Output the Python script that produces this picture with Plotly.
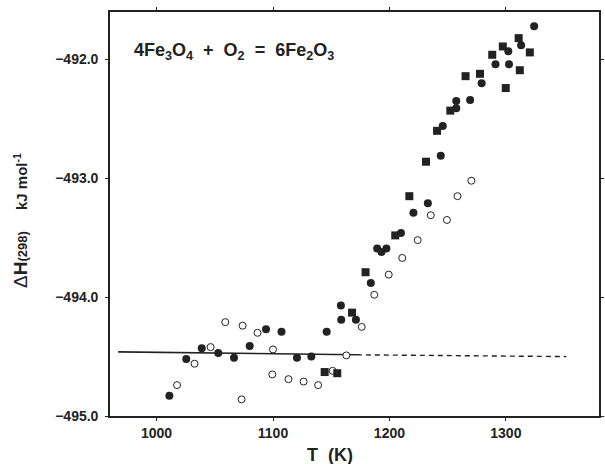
import plotly.graph_objects as go

# Open circles
open_T = [1017.6, 1032.6, 1046.4, 1059, 1073.9, 1073, 1086.7, 1100, 1099.4, 1113.3,
          1126.3, 1138.8, 1151.2, 1163, 1176.2, 1187, 1199.4, 1211, 1224.3, 1235.5,
          1249.4, 1258.5, 1270.4]
open_H = [-494.74, -494.56, -494.42, -494.21, -494.24, -494.86, -494.30, -494.44, -494.65, -494.69,
          -494.71, -494.74, -494.62, -494.49, -494.25, -493.98, -493.81, -493.67, -493.52, -493.31,
          -493.35, -493.15, -493.02]

# Filled circles
filled_T = [1011, 1025.5, 1038.8, 1053, 1066.5, 1080, 1094, 1107.3, 1120.6, 1132.9,
            1146.1, 1158.3, 1158.6, 1171.2, 1184, 1189.5, 1193.2, 1197.4, 1209.9, 1220.6,
            1233, 1244.1, 1245.8, 1257.4, 1257.4, 1269.3, 1279.2, 1291.1, 1302.7, 1302.1,
            1313.1, 1324.3]
filled_H = [-494.83, -494.52, -494.43, -494.47, -494.51, -494.41, -494.27, -494.29, -494.51, -494.50,
            -494.29, -494.07, -494.19, -494.19, -493.88, -493.59, -493.62, -493.59, -493.46, -493.29,
            -493.21, -492.81, -492.56, -492.35, -492.41, -492.34, -492.20, -492.04, -492.04, -491.93,
            -491.88, -491.72]

# Filled squares
square_T = [1144.4, 1155.2, 1167.9, 1179.5, 1205, 1217.1, 1231.4, 1240.9, 1252.3, 1265.4,
            1277.8, 1288.3, 1297.4, 1299.9, 1311, 1312, 1320.6]
square_H = [-494.63, -494.64, -494.13, -493.79, -493.48, -493.15, -492.86, -492.60, -492.43, -492.14,
            -492.12, -491.96, -491.89, -492.24, -491.82, -492.09, -491.94]

# Constant-enthalpy line (solid part) and its extrapolation (dashed)
fit_T = [967, 1172]
fit_H = [-494.46, -494.485]
ext_T = [1172, 1352]
ext_H = [-494.485, -494.50]

x_ticks = [1000, 1100, 1200, 1300]
y_ticks = [-495.0, -494.0, -493.0, -492.0]
y_ticktext = ["\u2212495.0", "\u2212494.0", "\u2212493.0", "\u2212492.0"]

ink = "#222222"
fig = go.Figure()
fig.add_trace(go.Scatter(x=fit_T, y=fit_H, mode="lines",
                         line=dict(color=ink, width=1.6), showlegend=False))
fig.add_trace(go.Scatter(x=ext_T, y=ext_H, mode="lines",
                         line=dict(color=ink, width=1.4, dash="5px,4px"), showlegend=False))
fig.add_trace(go.Scatter(x=open_T, y=open_H, mode="markers",
                         marker=dict(symbol="circle", size=7, color="white",
                                     line=dict(color=ink, width=1)), showlegend=False))
fig.add_trace(go.Scatter(x=filled_T, y=filled_H, mode="markers",
                         marker=dict(symbol="circle", size=8, color=ink,
                                     line=dict(width=0)), showlegend=False))
fig.add_trace(go.Scatter(x=square_T, y=square_H, mode="markers",
                         marker=dict(symbol="square", size=8, color=ink,
                                     line=dict(width=0)), showlegend=False))

fam = "Arial, Liberation Sans, sans-serif"
axis_font = dict(family=fam, size=14, color=ink, weight="bold")
fig.update_layout(
    width=605, height=464,
    margin=dict(l=110, r=1, t=12, b=48),
    paper_bgcolor="white", plot_bgcolor="white",
    xaxis=dict(range=[960, 1380], tickvals=x_ticks, ticks="outside", ticklen=3,
               tickcolor=ink, tickwidth=1.2, showline=True, linecolor=ink, linewidth=1.6,
               mirror="ticks", showgrid=False, zeroline=False, tickfont=axis_font),
    yaxis=dict(range=[-495.0, -491.6], tickvals=y_ticks, ticktext=y_ticktext,
               ticks="outside", ticklen=3, tickcolor=ink, tickwidth=1.2,
               showline=True, linecolor=ink, linewidth=1.6, mirror="ticks",
               showgrid=False, zeroline=False, tickfont=axis_font, ticklabelstandoff=4),
    annotations=[
        dict(text="4Fe<sub>3</sub>O<sub>4</sub>&nbsp;&nbsp;+&nbsp;&nbsp;O<sub>2</sub>&nbsp; = &nbsp;6Fe<sub>2</sub>O<sub>3</sub>",
             xref="paper", yref="paper", x=(132 - 110) / 494, y=(416 - 52) / 404,
             xanchor="left", yanchor="middle", showarrow=False,
             font=dict(family=fam, size=18, color=ink, weight="bold")),
        dict(text="T  (K)", xref="paper", yref="paper", x=(332 - 110) / 494, y=(416 - 455) / 404,
             xanchor="center", yanchor="middle", showarrow=False,
             font=dict(family=fam, size=18, color=ink, weight="bold")),
        dict(text="<span style='font-weight:normal'>\u0394</span>H<span style='font-size:13px'>(298)</span>"
                  "&nbsp;&nbsp;&nbsp; <span style='font-size:15px'>kJ mol<sup>-1</sup></span>",
             xref="paper", yref="paper", x=(19 - 110) / 494, y=(416 - 220) / 404,
             xanchor="center", yanchor="middle", textangle=-90, showarrow=False,
             font=dict(family=fam, size=19, color=ink, weight="bold")),
    ],
)

fig.write_html("out.html")
